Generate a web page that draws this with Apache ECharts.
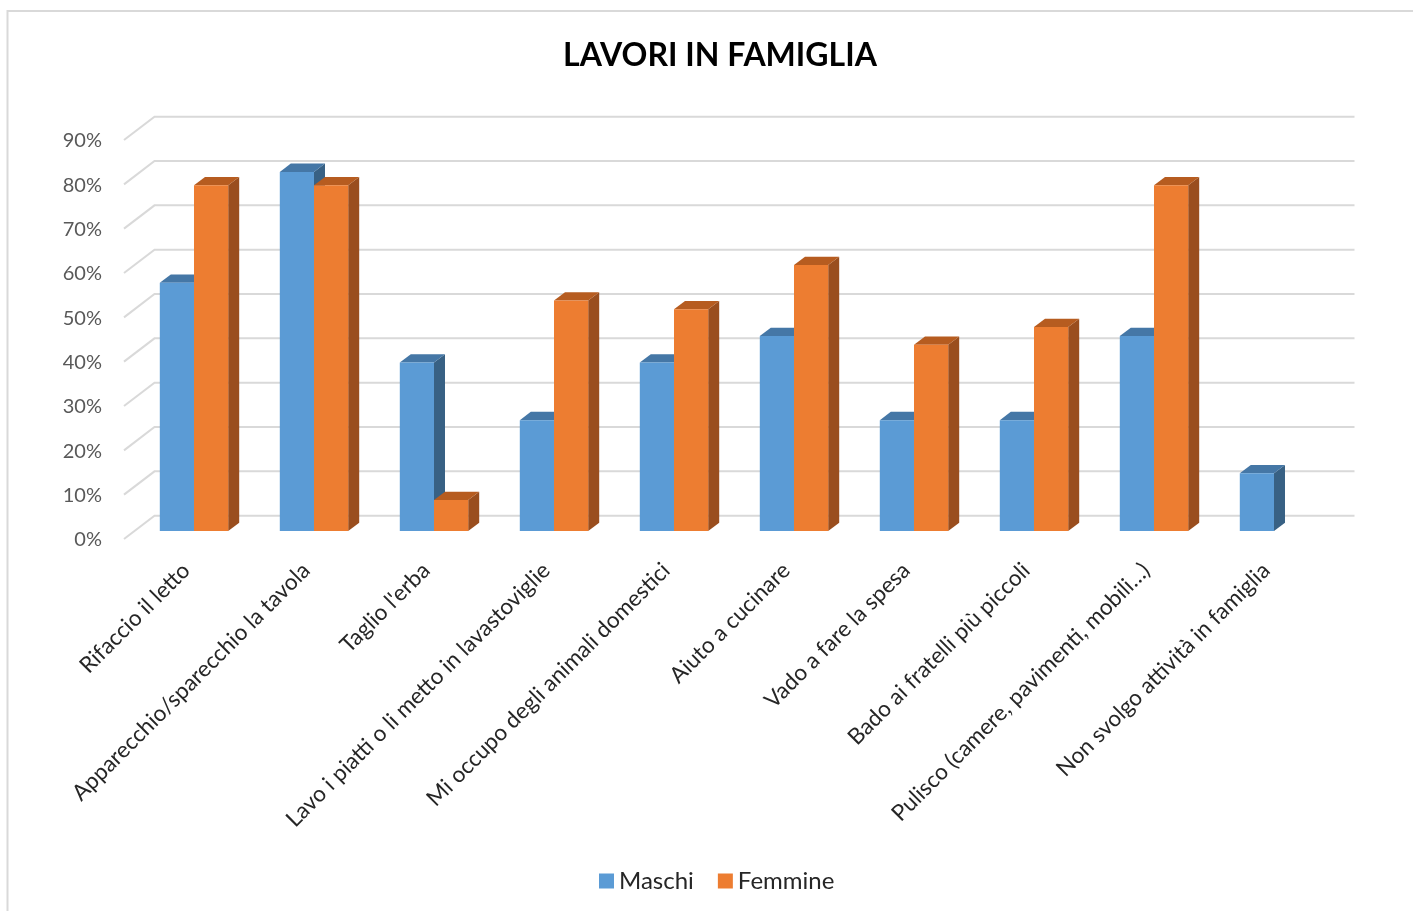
<!DOCTYPE html>
<html><head><meta charset="utf-8">
<script src="https://cdn.jsdelivr.net/npm/echarts@6/dist/echarts.min.js"></script>
<style>html,body{margin:0;padding:0;background:#fff}#c{width:1413px;height:911px}</style>
</head><body><div id="c"></div>
<script>
const categories = ["Rifaccio il letto","Apparecchio/sparecchio la tavola","Taglio l'erba","Lavo i piatti o li metto in lavastoviglie","Mi occupo degli animali domestici","Aiuto a cucinare","Vado a fare la spesa","Bado ai fratelli più piccoli","Pulisco (camere, pavimenti, mobili…)","Non svolgo attività in famiglia"];
const maschi = [56, 81, 38, 25, 38, 44, 25, 25, 44, 13];
const femmine = [78, 78, 7, 52, 50, 60, 42, 46, 78, null];
const yTicks = [0,10,20,30,40,50,60,70,80,90];

const FONT = 'Lato, "Open Sans", sans-serif';
const BAR_FRAC = 0.285;
const DX = 11, DY = 8.3;          // bar depth
const BACK_X = 20.5, BACK_Y = 15.3; // back wall offset
const FRONT_X = 10, FRONT_Y = 8;    // floor front offset

function barRenderer(side, cFront, cTop, cSide) {
  return function (params, api) {
    const i = api.value(0), v = api.value(1);
    const base = api.coord([i, 0]);
    const top = api.coord([i, v]);
    const band = api.size([1, 0])[0];
    const w = band * BAR_FRAC;
    const x = side < 0 ? base[0] - w : base[0];
    const t = top[1], b = base[1];
    return {
      type: 'group',
      children: [
        { type: 'polygon', shape: { points: [[x + w, t], [x + w + DX, t - DY], [x + w + DX, b - DY], [x + w, b]] }, style: { fill: cSide } },
        { type: 'polygon', shape: { points: [[x, t], [x + DX, t - DY], [x + w + DX, t - DY], [x + w, t]] }, style: { fill: cTop } },
        { type: 'rect', shape: { x: x, y: t, width: w, height: b - t }, style: { fill: cFront } }
      ]
    };
  };
}

function gridRenderer(params, api) {
  const v = api.value(1);
  const first = api.coord([0, v]);
  const last = api.coord([categories.length - 1, v]);
  const band = api.size([1, 0])[0];
  const x0 = first[0] - band / 2, x1 = last[0] + band / 2, y = first[1];
  return {
    type: 'polyline',
    shape: { points: [[x0 - FRONT_X, y + FRONT_Y], [x0 + BACK_X, y - BACK_Y], [x1 + BACK_X, y - BACK_Y]] },
    style: { stroke: '#d9d9d9', lineWidth: 2, fill: null }
  };
}

const chart = echarts.init(document.getElementById('c'), null, { renderer: 'canvas' });
chart.setOption({
  animation: false,
  backgroundColor: '#fff',
  color: ['#5b9bd5', '#ed7d31'],
  graphic: [{ type: 'rect', shape: { x: 7.5, y: 11, width: 1420, height: 920 }, style: { fill: null, stroke: '#d9d9d9', lineWidth: 2 }, z: 0 }],
  title: { text: 'LAVORI IN FAMIGLIA', left: 715, textAlign: 'center', top: 35, textStyle: { fontFamily: FONT, fontWeight: 'bold', fontSize: 32, color: '#000' } },
  legend: { data: ['Maschi', 'Femmine'], top: 864, left: 594, icon: 'rect', itemWidth: 15, itemHeight: 15, itemGap: 24, textStyle: { fontFamily: FONT, fontSize: 24, color: '#262626' } },
  grid: { left: 134, right: 79, top: 132, bottom: 380, containLabel: false },
  xAxis: { type: 'category', data: categories, axisLine: { show: false }, axisTick: { show: false }, splitLine: { show: false },
    axisLabel: { interval: 0, rotate: 45, margin: 28, padding: [0, 11, 0, 0], fontFamily: FONT, fontSize: 22.5, color: '#262626' } },
  yAxis: { type: 'value', min: 0, max: 90, interval: 10, axisLine: { show: false }, axisTick: { show: false }, splitLine: { show: false },
    axisLabel: { formatter: '{value}%', margin: 32, verticalAlign: 'top', lineHeight: 18, fontFamily: FONT, fontSize: 20, color: '#595959' } },
  series: [
    { name: 'grid', type: 'custom', renderItem: gridRenderer, data: yTicks.map(t => [0, t]), silent: true, z: 1 },
    { name: 'Maschi', type: 'custom', itemStyle: { color: '#5b9bd5' }, renderItem: barRenderer(-1, '#5b9bd5', '#4577a6', '#386184'), data: maschi.map((v, i) => [i, v]), z: 2 },
    { name: 'Femmine', type: 'custom', itemStyle: { color: '#ed7d31' }, renderItem: barRenderer(1, '#ed7d31', '#b65c20', '#9a4e1e'), data: femmine.map((v, i) => [i, v == null ? '-' : v]), z: 3 }
  ]
});
</script></body></html>
